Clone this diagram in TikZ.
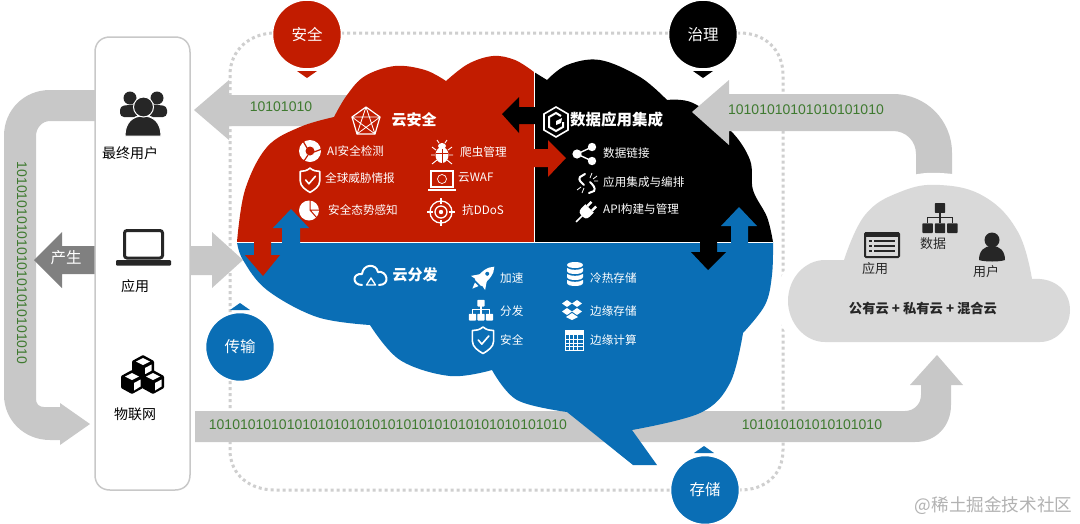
\documentclass[tikz,border=0pt]{standalone}
\usepackage{fontspec}
\setmainfont{Noto Sans CJK SC}
\newfontfamily\digitfont{Liberation Sans}
\definecolor{cred}{HTML}{C21C00}
\definecolor{cblue}{HTML}{0A6EB5}
\definecolor{bandgray}{HTML}{C8C8C8}
\definecolor{cloudgray}{HTML}{D9D9D9}
\definecolor{dotgray}{HTML}{CFCFCF}
\definecolor{bitgreen}{HTML}{3F7A30}
\definecolor{ink}{HTML}{262626}
\newcommand{\fs}[1]{\fontsize{#1}{#1}\selectfont}
\tikzset{
  band/.style={fill=bandgray},
  bits/.style={inner sep=0,text=bitgreen,font=\digitfont\fs{14}},
  wlab/.style={inner sep=0,text=white,font=\fs{11.6}},
  wbold/.style={inner sep=0,text=white,font=\bfseries\fs{15.5}},
  klab/.style={inner sep=0,text=black,font=\fs{14}},
  glab/.style={inner sep=0,text=ink,font=\fs{13}},
  circlab/.style={inner sep=0,text=white,font=\fs{15.5}},
  badge/.style={circle,minimum size=69pt,inner sep=0,draw=white,line width=1.5pt},
  wline/.style={draw=white,line width=1.6pt,line join=round,line cap=round},
}
% icons -----------------------------------------------------------
\newcommand{\shieldicon}[3]{\begin{scope}[shift={(#1,#2)},scale=#3]
 \draw[wline] (0,-11) .. controls (-3,-8.5) and (-6,-8) .. (-9,-8) -- (-9,1) .. controls (-9,6) and (-4,9) .. (0,11.5) .. controls (4,9) and (9,6) .. (9,1) -- (9,-8) .. controls (6,-8) and (3,-8.5) .. (0,-11) -- cycle;
 \draw[wline] (-4,0) -- (-1,3.5) -- (5,-3.5);
\end{scope}}
\newcommand{\treeicon}[4]{\begin{scope}[shift={(#1,#2)},scale=#3]
 \fill[#4,rounded corners=.7pt] (-4,-13) rectangle (4,-5.5);
 \fill[#4,rounded corners=.7pt] (-13.5,2.5) rectangle (-5.5,10);
 \fill[#4,rounded corners=.7pt] (-4,2.5) rectangle (4,10);
 \fill[#4,rounded corners=.7pt] (5.5,2.5) rectangle (13.5,10);
 \draw[#4,line width=1.3pt] (0,-6.5) -- (0,2.5) (-9.5,2.5) -- (-9.5,-2) -- (9.5,-2) -- (9.5,2.5);
\end{scope}}
\newcommand{\cubeicon}[2]{\begin{scope}[shift={(#1,#2)}]
 \fill[black,rounded corners=1pt] (0,-12) -- (11,-6) -- (11,6) -- (0,12) -- (-11,6) -- (-11,-6) -- cycle;
 \fill[white] (0,-9) -- (7,-5.5) -- (0,-2) -- (-7,-5.5) -- cycle;
 \fill[white] (2,1) -- (8.5,-2.5) -- (8.5,4.5) -- (2,8.5) -- cycle;
\end{scope}}
\begin{document}
\begin{tikzpicture}[x=1pt,y=-1pt]
\useasboundingbox (0,0) rectangle (1080,523);
\fill[white] (0,0) rectangle (1080,523);
% dotted frame
\draw[dotgray,line width=3pt,dash pattern=on 3pt off 3pt] (275,33) -- (740,33) .. controls (765,33) and (783,50) .. (783,75) -- (783,450) .. controls (783,475) and (765,490) .. (740,490) -- (275,490) .. controls (250,490) and (230,475) .. (230,450) -- (230,75) .. controls (230,50) and (250,33) .. (275,33) -- cycle;
% grey arrows
\fill[band] (110,90) -- (50,90) .. controls (24,90) and (4,110) .. (4,136) -- (4,395) .. controls (4,420) and (24,440) .. (50,440) -- (60,440) -- (60,445) -- (90,424) -- (60,403) -- (60,407) -- (44,407) .. controls (39,407) and (36,404) .. (36,399) -- (36,136) .. controls (36,128) and (42,121) .. (50,121) -- (110,121) -- cycle;
\fill[band] (194,110) -- (229,80) -- (229,95) -- (400,95) -- (400,126) -- (229,126) -- (229,140) -- cycle;
\fill[band] (195,411) -- (905,411) .. controls (914,411) and (921,404) .. (921,395) -- (921,385) -- (910,385) -- (937,355) -- (963,385) -- (951,385) -- (951,405) .. controls (951,426) and (936,442) .. (915,442) -- (195,442) -- cycle;
\fill[band] (170,246) -- (212,246) -- (212,232) -- (243,260) -- (212,288) -- (212,275) -- (170,275) -- cycle;
\fill[gray] (34,260) -- (62,232) -- (62,246) -- (110,246) -- (110,274) -- (62,274) -- (62,288) -- cycle;
% left panel
\draw[fill=white,draw=bandgray,line width=1.5pt] (110,37) -- (175,37) .. controls (184,37) and (190,43) .. (190,52) -- (190,475) .. controls (190,484) and (184,490) .. (175,490) -- (110,490) .. controls (101,490) and (95,484) .. (95,475) -- (95,52) .. controls (95,43) and (101,37) .. (110,37) -- cycle;
% clouds
\fill[cred] (534,72) -- plot[smooth,tension=.6] coordinates {(534,72) (515,60) (493,56) (468,64) (446,81)} -- plot[smooth,tension=.6] coordinates {(446,81) (425,70) (395,66) (365,76) (347,95) (334,117)} -- plot[smooth,tension=.6] coordinates {(334,117) (300,127) (267,147) (245,190) (237,242)} -- (534,242) -- cycle;
\fill[black] (534,72) -- (547,80) -- plot[smooth,tension=.6] coordinates {(547,80) (567,65) (600,60) (640,77) (667,100)} -- plot[smooth,tension=.6] coordinates {(667,100) (693,103) (730,130) (750,160) (753,190) (767,217) (773,242)} -- (534,242) -- cycle;
\fill[cblue] (237,242) -- plot[smooth,tension=.6] coordinates {(237,242) (243,260) (267,290) (317,317) (370,325)} -- plot[smooth,tension=.6] coordinates {(370,325) (400,360) (450,376) (492,370)} -- plot[smooth,tension=.6] coordinates {(492,370) (517,400) (567,412)} -- (633,465) -- (657,465) -- (632,430) -- plot[smooth,tension=.6] coordinates {(632,430) (700,413) (730,383) (743,333)} -- plot[smooth,tension=.6] coordinates {(743,333) (765,305) (772,275) (773,242)} -- cycle;
% split lines
\draw[white,line width=1pt] (237,242) -- (773,242) (534,66) -- (534,242);
% small arrows
\fill[black] (502,114) -- (519,97) -- (519,107) -- (536,107) -- (536,124) -- (519,124) -- (519,133) -- cycle;
\fill[cred] (566,158) -- (548,140) -- (548,149) -- (534,149) -- (534,167) -- (548,167) -- (548,177) -- cycle;
\fill[cred] (263,276) -- (245,255) -- (254,255) -- (254,240) -- (271,240) -- (271,255) -- (280,255) -- cycle;
\fill[cblue] (291,209) -- (309,228) -- (300,228) -- (300,243) -- (282,243) -- (282,228) -- (273,228) -- cycle;
\fill[black] (708,270) -- (691,252) -- (700,252) -- (700,224) -- (717,224) -- (717,252) -- (726,252) -- cycle;
\fill[cblue] (739,207) -- (757,226) -- (748,226) -- (748,243) -- (731,243) -- (731,226) -- (721,226) -- cycle;
% grey arrow over the black cloud
\fill[band] (692,112) -- (729,80) -- (729,94) -- (893,94) .. controls (926,94) and (952,120) .. (952,153) -- (952,200) -- (916,200) -- (916,154) .. controls (916,141) and (906,131) .. (893,131) -- (729,131) -- (729,145) -- cycle;
% grey cloud
\draw[fill=cloudgray,draw=white,line width=24pt,line join=round] (844,260) plot[smooth,tension=.7] coordinates {(844,260) (865,215) (900,192) (940,185) (985,197) (1018,232) (1032,279)} .. controls (1056,277) and (1070,292) .. (1070,310) .. controls (1070,328) and (1056,342) .. (1040,342) -- (825,342) .. controls (804,342) and (788,322) .. (788,301) .. controls (788,278) and (805,260) .. (825,260) -- cycle;
\fill[cloudgray] (844,260) -- plot[smooth,tension=.7] coordinates {(844,260) (865,215) (900,192) (940,185) (985,197) (1018,232) (1032,279)} .. controls (1056,277) and (1070,292) .. (1070,310) .. controls (1070,328) and (1056,342) .. (1040,342) -- (825,342) .. controls (804,342) and (788,322) .. (788,301) .. controls (788,278) and (805,260) .. (825,260) -- cycle;
% badges
\node[badge,fill=cred] (anquan) at (307,34.5) {};
\node[badge,fill=black] (zhili) at (703,34.5) {};
\node[badge,fill=cblue] (chuanshu) at (240,347) {};
\node[badge,fill=cblue] (cunchu) at (705,490) {};
\node[circlab] at (anquan) {安全};
\node[circlab] at (zhili) {治理};
\node[circlab] at (chuanshu) {传输};
\node[circlab] at (cunchu) {存储};
\fill[cred] (297,71) -- (317,71) -- (307,78) -- cycle;
\fill[black] (693,71) -- (713,71) -- (703,78) -- cycle;
\fill[cblue] (230,310) -- (250,310) -- (240,303) -- cycle;
\fill[cblue] (694,453) -- (714,453) -- (704,446) -- cycle;
% bit strings
\node[bits] (b1) at (281,107) {10101010};
\node[bits,rotate=-90] (b2) at (22,263) {10101010101010101010101010};
\node[bits] (b3) at (806,110) {10101010101010101010};
\node[bits] (b4) at (388,425) {1010101010101010101010101010101010101010101010};
\node[bits] (b5) at (812,425) {101010101010101010};
% panel icons and labels
\begin{scope}[shift={(143,0)}]
 \fill[ink] (-13,98) circle (6.5) (14,98) circle (6.5);
 \fill[ink,rounded corners=4pt] (-23,117) -- (-23,106) -- (-5,104) -- (-5,117) -- cycle;
 \fill[ink,rounded corners=4pt] (24,117) -- (24,106) -- (6,104) -- (6,117) -- cycle;
 \draw[fill=ink,draw=white,line width=1pt] (-18,136) .. controls (-18,122) and (-10,116) .. (0,116) .. controls (10,116) and (18,122) .. (18,136) -- cycle;
 \draw[fill=ink,draw=white,line width=1pt] (0.5,107) circle (10);
\end{scope}
\node[klab] (yonghu) at (130,153) {最终用户};
\draw[ink,line width=3pt,rounded corners=2.5pt] (124.5,230.5) rectangle (162.5,258);
\fill[ink,rounded corners=1pt] (116,260) rectangle (171,265.5);
\node[klab] (yingyong) at (135,286) {应用};
\cubeicon{143}{367}\cubeicon{132}{382}\cubeicon{153}{382}
\node[klab] (wulian) at (135,414) {物联网};
\node[wlab,font=\fs{15.5}] (chansheng) at (66,258) {产生};
% red section
\begin{scope}[shift={(366,122)}]
 \draw[wline,line width=1.2pt] (0,-15) -- (14,-5) -- (9,12) -- (-9,12) -- (-14,-5) -- cycle;
 \draw[wline,line width=.8pt] (0,-15) -- (9,12) -- (-14,-5) -- (14,-5) -- (-9,12) -- cycle;
\end{scope}
\node[wbold,font=\bfseries\fs{15}] (yunanquan) at (414,120) {云安全};
\fill[white] (310,151) circle (11);
\fill[cred] (310,151) circle (4.5);
\draw[cred,line width=1.2pt] (303,141) -- (307,148) (322,149) -- (314,152) (304,161) -- (308,155);
\shieldicon{310}{180}{1.08}
\fill[white] (309,210.5) circle (10);
\draw[cred,line width=1pt] (310,200) -- (310,210) -- (320,210) (310,210) -- (317,218);
\node[wlab,anchor=west] (s1) at (327,151) {AI安全检测};
\node[wlab,anchor=west] (s2) at (325,178) {全球威胁情报};
\node[wlab,anchor=west] (s3) at (328,210) {安全态势感知};
\begin{scope}[shift={(442,153)}]
 \fill[white] (0,2) ellipse (6.5 and 8);
 \fill[white] (0,-7) ellipse (4 and 3);
 \draw[white,line width=.9pt] (-3,-10) -- (-5,-13) (3,-10) -- (5,-13) (-6,-3) -- (-10,-6) (6,-3) -- (10,-6) (-7,2) -- (-11,2) (7,2) -- (11,2) (-5,7) -- (-10,11) (5,7) -- (10,11);
 \draw[cred,line width=.7pt] (0,-4) -- (0,10) (-6,0) -- (6,0);
\end{scope}
\begin{scope}[shift={(442,180)}]
 \draw[white,line width=1.1pt] (-11,-9) rectangle (11,7);
 \fill[white] (-14,9) rectangle (14,10.5);
 \draw[white,line width=.7pt] (0,-1) circle (4.5);
\end{scope}
\begin{scope}[shift={(441,212)}]
 \draw[white,line width=1.3pt] (0,0) circle (11) (0,0) circle (6);
 \fill[white] (0,0) circle (2.2);
 \draw[white,line width=1.3pt] (0,-14) -- (0,-8) (0,14) -- (0,8) (-14,0) -- (-8,0) (14,0) -- (8,0);
\end{scope}
\node[wlab,anchor=west] (s4) at (460,152) {爬虫管理};
\node[wlab,anchor=west] (s5) at (458,178) {云WAF};
\node[wlab,anchor=west] (s6) at (462,210) {抗DDoS};
% black section
\begin{scope}[shift={(556,122)}]
 \draw[white,line width=1.6pt,line join=miter] (0,-15) -- (12,-8) -- (12,8) -- (0,15) -- (-12,8) -- (-12,-8) -- cycle;
 \draw[white,line width=2pt] (5,-6) -- (0,-9) -- (-7,-5) -- (-7,5) -- (0,9) -- (7,5) -- (7,0);
 \fill[white] (0,3) -- (0,-1) -- (6,-4) -- (5,1) -- cycle;
\end{scope}
\node[wbold] (shuju) at (616.5,120) {数据应用集成};
\begin{scope}[shift={(0,0)}]
 \draw[white,line width=1.4pt] (577,154) -- (592,147) (577,154) -- (592,161);
 \fill[white] (577,154) circle (4.6) (592,147) circle (4.2) (592,161) circle (4.2);
\end{scope}
\begin{scope}[shift={(587,183)}]
 \draw[white,line width=2pt,line cap=round] (-2,-9) -- (-7,-6) .. controls (-9,-3) and (-6,-1) .. (-3,2);
 \draw[white,line width=2pt,line cap=round] (2,10) -- (7,8) .. controls (9,5) and (6,2) .. (3,-1);
 \draw[white,line width=.8pt] (3,-5) -- (5,-10) (6,-4) -- (10,-7) (7,-2) -- (11,-2) (-3,5) -- (-5,10) (-6,4) -- (-10,7);
\end{scope}
\begin{scope}[shift={(586,212)},rotate=-45]
 \fill[white] (-6,-5) -- (6,-5) -- (6,0) .. controls (6,5) and (3,6) .. (0,6) .. controls (-3,6) and (-6,5) .. (-6,0) -- cycle;
 \fill[white] (-4.5,-11) rectangle (-2,-5) (2,-11) rectangle (4.5,-5);
 \draw[white,line width=1.6pt] (0,6) -- (0,14);
\end{scope}
\node[wlab,anchor=west] (d1) at (603,153) {数据链接};
\node[wlab,anchor=west] (d2) at (603,182) {应用集成与编排};
\node[wlab,anchor=west] (d3) at (603,209) {API构建与管理};
% blue section
\begin{scope}[shift={(371,276)}]
 \draw[wline,line width=2pt] (-9,9) .. controls (-19,9) and (-19,-3) .. (-9,-2) .. controls (-8,-12) and (5,-13) .. (7,-4) .. controls (16,-6) and (20,9) .. (8,9);
 \draw[wline,line width=1.3pt] (0,2) -- (4.5,9) -- (-4.5,9) -- cycle;
\end{scope}
\node[wbold,font=\bfseries\fs{15}] (yunfenfa) at (415,275) {云分发};
\begin{scope}[shift={(483,278)},rotate=-45]
 \fill[white] (0,-16) .. controls (5,-11) and (6,-3) .. (4.5,7) -- (-4.5,7) .. controls (-6,-3) and (-5,-11) .. (0,-16) -- cycle;
 \fill[white] (-4.5,-1) -- (-10,7) -- (-4.5,6) -- cycle;
 \fill[white] (4.5,-1) -- (10,7) -- (4.5,6) -- cycle;
 \fill[white] (-2.5,9) -- (2.5,9) -- (0,15) -- cycle;
 \fill[cblue] (0,-6) circle (2);
\end{scope}
\treeicon{481}{311.5}{.9}{white}
\shieldicon{483}{340}{1.18}
\node[wlab,anchor=west] (f1) at (500,278) {加速};
\node[wlab,anchor=west] (f2) at (500,311) {分发};
\node[wlab,anchor=west] (f3) at (500,340) {安全};
\begin{scope}[shift={(575,275)}]
 \fill[white] (-8,-10) .. controls (-8,-14) and (8,-14) .. (8,-10) .. controls (8,-6) and (-8,-6) .. (-8,-10) -- cycle;
 \foreach \yy in {-5,1,7} {\fill[white] (-8,\yy-2) .. controls (-4,\yy+.5) and (4,\yy+.5) .. (8,\yy-2) -- (8,\yy+1) .. controls (8,\yy+5) and (-8,\yy+5) .. (-8,\yy+1) -- cycle;}
\end{scope}
\begin{scope}[shift={(572,310)}]
 \fill[white] (-5,-10) -- (0,-6.5) -- (-5,-3) -- (-10,-6.5) -- cycle;
 \fill[white] (5,-10) -- (10,-6.5) -- (5,-3) -- (0,-6.5) -- cycle;
 \fill[white] (-5,-2) -- (0,1.5) -- (-5,5) -- (-10,1.5) -- cycle;
 \fill[white] (5,-2) -- (10,1.5) -- (5,5) -- (0,1.5) -- cycle;
 \fill[white] (0,3) -- (6,7) -- (0,10) -- (-6,7) -- cycle;
\end{scope}
\begin{scope}[shift={(574,340)}]
 \draw[white,line width=1pt] (-9,-10) rectangle (9,10);
 \fill[white] (-9,-10) rectangle (9,-5);
 \draw[white,line width=.7pt] (-5,-5) -- (-5,10) (-1,-5) -- (-1,10) (3,-5) -- (3,10) (-9,-1) -- (9,-1) (-9,3) -- (9,3) (-9,6.5) -- (9,6.5);
\end{scope}
\node[wlab,anchor=west] (f4) at (590,278) {冷热存储};
\node[wlab,anchor=west] (f5) at (590,311) {边缘存储};
\node[wlab,anchor=west] (f6) at (590,340) {边缘计算};
% cloud contents
\begin{scope}[shift={(882,245)}]
 \draw[ink,line width=2pt,fill=cloudgray,rounded corners=1pt] (-17,-12) rectangle (17,12);
 \fill[ink] (-17,-13) rectangle (17,-8);
 \foreach \yy in {-4,1,6} {\fill[ink] (-13,\yy-1) rectangle (-10.5,\yy+1); \fill[ink] (-8,\yy-1) rectangle (13,\yy+1);}
\end{scope}
\treeicon{940}{220}{1.3}{ink}
\begin{scope}[shift={(992,247)}]
 \fill[ink] (0,-7) circle (7.5);
 \fill[ink] (-13,13) .. controls (-13,4) and (-8,-1) .. (0,-1) .. controls (8,-1) and (13,4) .. (13,13) .. controls (8,15) and (-8,15) .. (-13,13) -- cycle;
\end{scope}
\node[glab] (ca) at (875,269) {应用};
\node[glab] (cb) at (933,244) {数据};
\node[glab] (cc) at (986,272) {用户};
\node[inner sep=0,text=ink,font=\bfseries\fs{13.3}] (cd) at (923,308) {公有云 + 私有云 + 混合云};
% watermark
\node[inner sep=0,text=black!30,font=\fs{17.6}] (wm) at (993.5,506) {@稀土掘金技术社区};
\end{tikzpicture}
\end{document}
